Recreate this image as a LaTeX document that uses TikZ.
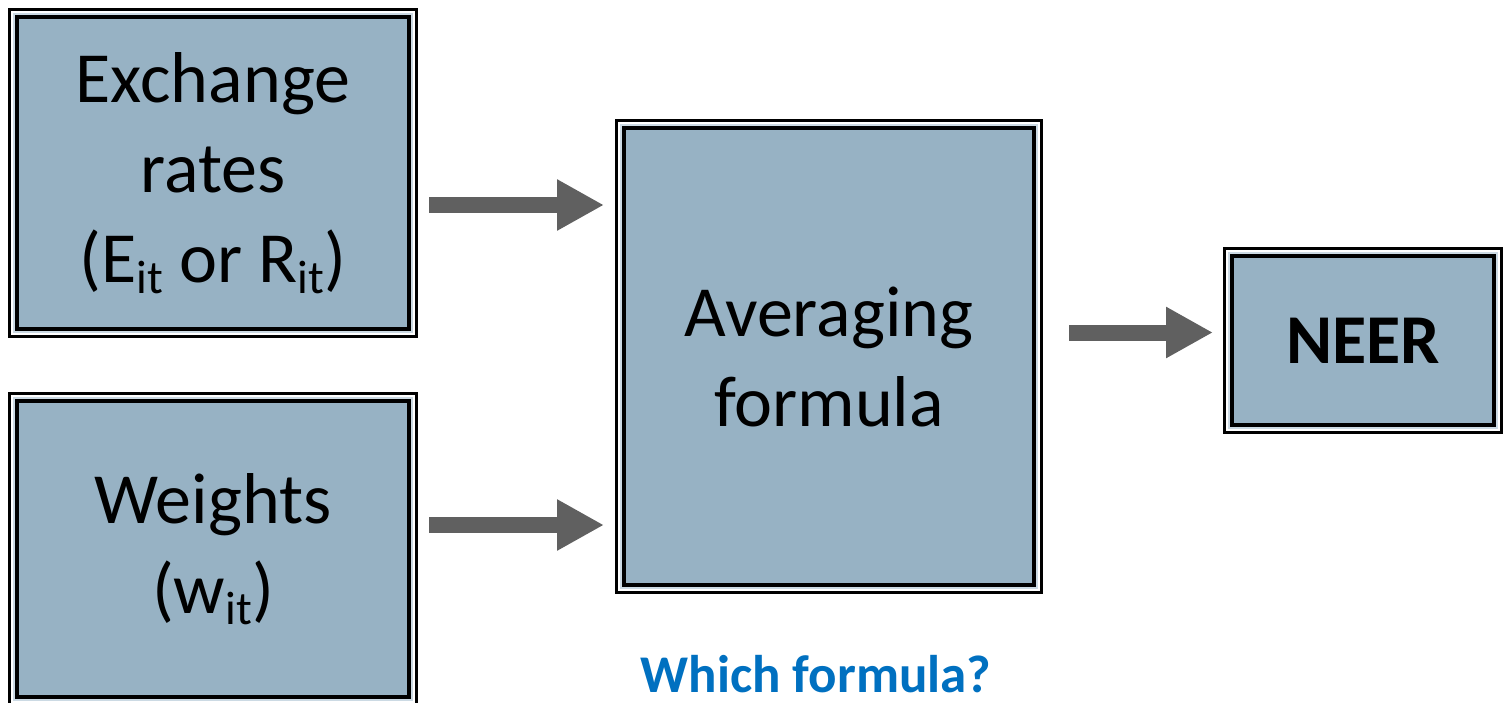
\documentclass[tikz,border=0pt]{standalone}
\usepackage{fontspec}
\setmainfont{Carlito}
\usetikzlibrary{calc,arrows.meta}
\definecolor{boxfill}{HTML}{97B2C4}
\definecolor{boxlight}{HTML}{CCDAE4}
\definecolor{arrowgray}{HTML}{606060}
\definecolor{qblue}{HTML}{0070C0}
\newcommand{\subit}{\raisebox{-11pt}{\fontsize{47}{47}\selectfont it}}
\newcommand{\frameit}[1]{%
  \draw[boxlight, line width=2pt] ([shift={(-1,-1)}]#1.north west) rectangle ([shift={(1,1)}]#1.south east);
  \draw[black, line width=3pt] ([shift={(-5.5,-5.5)}]#1.north west) rectangle ([shift={(5.5,5.5)}]#1.south east);
}
\tikzset{
  framebox/.style={draw=black, line width=4pt, fill=boxfill, inner sep=0pt,
    align=center, font=\fontsize{72}{90}\selectfont},
  bigarrow/.style={draw=arrowgray, line width=16pt, -{Triangle[length=47pt,width=48pt]}}
}
\begin{document}
\begin{tikzpicture}[x=1pt,y=-1pt]
\useasboundingbox (0,0) rectangle (1506,702);
\node[framebox, minimum width=392pt, minimum height=312pt] (ex) at (213,173)
  {Exchange\\rates\\(E\subit{} or R\subit)};
\node[framebox, minimum width=392pt, minimum height=296pt] (wt) at (213,549)
  {Weights\\(w\subit)};
\node[framebox, minimum width=410pt, minimum height=457pt] (avg) at (829,356.5)
  {Averaging\\formula};
\node[framebox, minimum width=262pt, minimum height=169pt, font=\fontsize{70}{84}\selectfont\bfseries] (neer) at (1363,340.5)
  {NEER};
\frameit{ex}
\frameit{wt}
\frameit{avg}
\frameit{neer}
\node[text=qblue, font=\fontsize{53}{60}\selectfont\bfseries, inner sep=0pt] (q) at (816,674) {Which formula?};
\draw[bigarrow] ($(ex.east |- 0,205)+(18,0)$) -- ($(avg.west |- 0,205)+(-18,0)$);
\draw[bigarrow] ($(wt.east |- 0,525)+(18,0)$) -- ($(avg.west |- 0,525)+(-18,0)$);
\draw[bigarrow] ($(avg.east |- 0,332.5)+(33,0)$) -- ($(neer.west |- 0,332.5)+(-17,0)$);
\end{tikzpicture}
\end{document}
